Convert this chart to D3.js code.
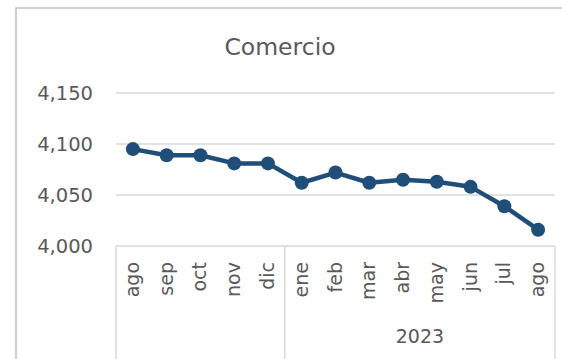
<!DOCTYPE html>
<html>
<head>
<meta charset="utf-8">
<script src="https://cdn.jsdelivr.net/npm/d3@7"></script>
<style>
  html, body { margin: 0; padding: 0; background: #fff; }
  svg { display: block; }
  text { font-family: "DejaVu Sans", sans-serif; fill: #595959; }
</style>
</head>
<body>
<svg id="chart" width="562" height="359"></svg>
<script>
// Monthly series: Aug 2022 – Aug 2023
const months = ["ago", "sep", "oct", "nov", "dic", "ene", "feb", "mar", "abr", "may", "jun", "jul", "ago"];
const values = [4095, 4089, 4089, 4081, 4081, 4062, 4072, 4062, 4065, 4063, 4058, 4039, 4016];
const groups = [{ label: "", start: 0, end: 5 }, { label: "2023", start: 5, end: 13 }];
const yTicks = [4000, 4050, 4100, 4150];
const title = "Comercio";

const svg = d3.select("#chart");
const margin = { left: 116, right: 7, top: 93, bottom: 113 };
const W = 562, H = 359;

// chart frame
svg.append("rect")
  .attr("x", 16).attr("y", 8)
  .attr("width", W).attr("height", H)
  .attr("fill", "none").attr("stroke", "#bfbfbf").attr("stroke-width", 1.5);

const idx = months.map((d, i) => i);
const x = d3.scaleBand().domain(idx).range([margin.left, W - margin.right]).padding(0);
const y = d3.scaleLinear().domain([4000, 4150]).range([H - margin.bottom, margin.top]);

// gridlines
svg.append("g")
  .selectAll("line").data(yTicks.filter(t => t > 4000)).join("line")
  .attr("x1", margin.left).attr("x2", W - margin.right)
  .attr("y1", d => y(d)).attr("y2", d => y(d))
  .attr("stroke", "#d9d9d9").attr("stroke-width", 1.5);

// y axis labels
const yAxis = d3.axisLeft(y).tickValues(yTicks).tickSize(0).tickPadding(0)
  .tickFormat(d3.format(","));
const gy = svg.append("g").attr("transform", `translate(93,0)`).call(yAxis);
gy.select(".domain").remove();
gy.selectAll("text").attr("font-size", 19.5).attr("fill", "#595959")
  .style("font-family", "\"DejaVu Sans\", sans-serif").attr("dy", "0.35em");

// category axis line and group separators
const axisY = y(4000);
svg.append("line")
  .attr("x1", margin.left).attr("x2", W - margin.right)
  .attr("y1", axisY).attr("y2", axisY)
  .attr("stroke", "#d9d9d9").attr("stroke-width", 1.5);
const bounds = [0, 5, 13].map(i => i < 13 ? x(i) : x(12) + x.bandwidth());
svg.append("g").selectAll("line").data(bounds).join("line")
  .attr("x1", d => d).attr("x2", d => d)
  .attr("y1", axisY).attr("y2", H)
  .attr("stroke", "#d9d9d9").attr("stroke-width", 1.5);

// month labels, rotated
svg.append("g").selectAll("text").data(months).join("text")
  .attr("transform", (d, i) => `translate(${x(i) + x.bandwidth() / 2 + 6},${axisY + 16}) rotate(-90)`)
  .attr("text-anchor", "end")
  .attr("font-size", 19)
  .text(d => d);

// group labels
svg.append("g").selectAll("text").data(groups).join("text")
  .attr("x", d => (x(d.start) + (d.end < 13 ? x(d.end) : x(12) + x.bandwidth())) / 2)
  .attr("y", 343)
  .attr("text-anchor", "middle")
  .attr("font-size", 19)
  .text(d => d.label);

// title
svg.append("text")
  .attr("x", 280).attr("y", 55)
  .attr("text-anchor", "middle")
  .attr("font-size", 23.5)
  .text(title);

// series line
const cx = i => x(i) + x.bandwidth() / 2;
svg.append("path")
  .datum(values)
  .attr("fill", "none")
  .attr("stroke", "#1f4e79")
  .attr("stroke-width", 4.5)
  .attr("stroke-linejoin", "round")
  .attr("d", d3.line().x((d, i) => cx(i)).y(d => y(d)));

svg.append("g").selectAll("circle").data(values).join("circle")
  .attr("cx", (d, i) => cx(i))
  .attr("cy", d => y(d))
  .attr("r", 7)
  .attr("fill", "#1f4e79");
</script>
</body>
</html>
